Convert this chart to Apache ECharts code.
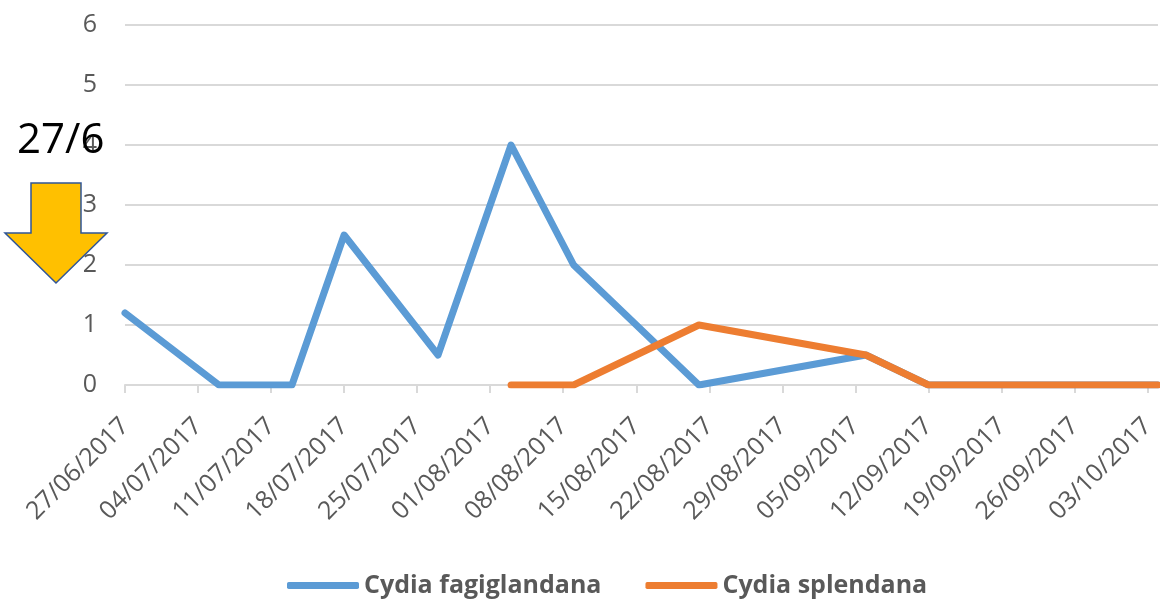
<!DOCTYPE html>
<html>
<head>
<meta charset="utf-8">
<script src="https://cdn.jsdelivr.net/npm/echarts@6/dist/echarts.min.js"></script>
<style>
  html, body { margin: 0; padding: 0; background: #ffffff; }
  #chart { width: 1160px; height: 601px; }
</style>
</head>
<body>
<div id="chart"></div>
<script>
// Trap catches per sampling date (DD/MM/YYYY)
const fagiglandanaDates = ['27/06/2017', '06/07/2017', '13/07/2017', '18/07/2017', '27/07/2017',
  '03/08/2017', '09/08/2017', '21/08/2017', '06/09/2017', '12/09/2017', '19/09/2017',
  '26/09/2017', '04/10/2017'];
const fagiglandanaValues = [1.2, 0, 0, 2.5, 0.5, 4, 2, 0, 0.5, 0, 0, 0, 0];

const splendanaDates = ['03/08/2017', '09/08/2017', '21/08/2017', '06/09/2017', '12/09/2017',
  '19/09/2017', '26/09/2017', '04/10/2017'];
const splendanaValues = [0, 0, 1, 0.5, 0, 0, 0, 0];

// Weekly tick labels along the date axis
const tickLabels = ['27/06/2017', '04/07/2017', '11/07/2017', '18/07/2017', '25/07/2017',
  '01/08/2017', '08/08/2017', '15/08/2017', '22/08/2017', '29/08/2017', '05/09/2017',
  '12/09/2017', '19/09/2017', '26/09/2017', '03/10/2017'];
const axisStart = '27/06/2017';
const axisEnd = '04/10/2017';

const yTicks = [0, 1, 2, 3, 4, 5, 6];

// Day offset from the axis start for a DD/MM/YYYY string
function dayIndex(s) {
  const p = s.split('/').map(Number);
  const a = axisStart.split('/').map(Number);
  return Math.round((Date.UTC(p[2], p[1] - 1, p[0]) - Date.UTC(a[2], a[1] - 1, a[0])) / 86400000);
}
const tickDays = tickLabels.map(dayIndex);
const labelByDay = {};
tickLabels.forEach(function (t) { labelByDay[dayIndex(t)] = t; });

function pairs(dates, values) {
  return dates.map(function (d, i) { return [dayIndex(d), values[i]]; });
}

const GRAY = '#595959';
const GRID = '#D9D9D9';
const FONT = '"Open Sans", "Noto Sans", sans-serif';

const chart = echarts.init(document.getElementById('chart'), null, { renderer: 'canvas' });

chart.setOption({
  animation: false,
  backgroundColor: '#ffffff',
  grid: { left: 125, right: 2, top: 25, bottom: 216, containLabel: false },
  xAxis: {
    type: 'value',
    min: 0,
    max: dayIndex(axisEnd),
    interval: 7,
    axisLine: { show: true, lineStyle: { color: GRID, width: 2 } },
    axisTick: { show: true, length: 8, customValues: tickDays, lineStyle: { color: GRID, width: 2 } },
    splitLine: { show: false },
    axisLabel: {
      customValues: tickDays,
      rotate: 45,
      margin: 37,
      color: GRAY,
      fontFamily: FONT,
      fontSize: 25,
      formatter: function (v) { return labelByDay[v] || ''; }
    }
  },
  yAxis: {
    type: 'value',
    min: yTicks[0],
    max: yTicks[yTicks.length - 1],
    interval: 1,
    axisLine: { show: false },
    axisTick: { show: false },
    splitLine: { show: true, lineStyle: { color: GRID, width: 2 } },
    axisLabel: { color: GRAY, fontFamily: FONT, fontSize: 25, margin: 28 }
  },
  legend: {
    left: 282,
    top: 568,
    itemWidth: 72,
    itemHeight: 7,
    itemGap: 44,
    icon: 'roundRect',
    textStyle: { color: GRAY, fontFamily: FONT, fontSize: 25, fontWeight: 'bold' },
    data: ['Cydia fagiglandana', 'Cydia splendana']
  },
  series: [
    {
      name: 'Cydia fagiglandana',
      type: 'line',
      data: pairs(fagiglandanaDates, fagiglandanaValues),
      showSymbol: false,
      symbol: 'none',
      color: '#5B9BD5',
      lineStyle: { width: 7, color: '#5B9BD5', cap: 'round', join: 'round' },
      z: 3
    },
    {
      name: 'Cydia splendana',
      type: 'line',
      data: pairs(splendanaDates, splendanaValues),
      showSymbol: false,
      symbol: 'none',
      color: '#ED7D31',
      lineStyle: { width: 7, color: '#ED7D31', cap: 'round', join: 'round' },
      z: 4
    }
  ],
  graphic: [
    {
      type: 'polygon',
      z: -1,
      shape: { points: [[31, 183], [81, 183], [81, 233], [107, 233], [56, 283], [5, 233], [31, 233]] },
      style: { fill: '#FFC000', stroke: '#2F5597', lineWidth: 1.5 }
    },
    {
      type: 'text',
      z: 100,
      left: 17,
      top: 120,
      style: { text: '27/6', fill: '#000000', font: '42px "Open Sans", "Noto Sans", sans-serif' }
    }
  ]
});
</script>
</body>
</html>
